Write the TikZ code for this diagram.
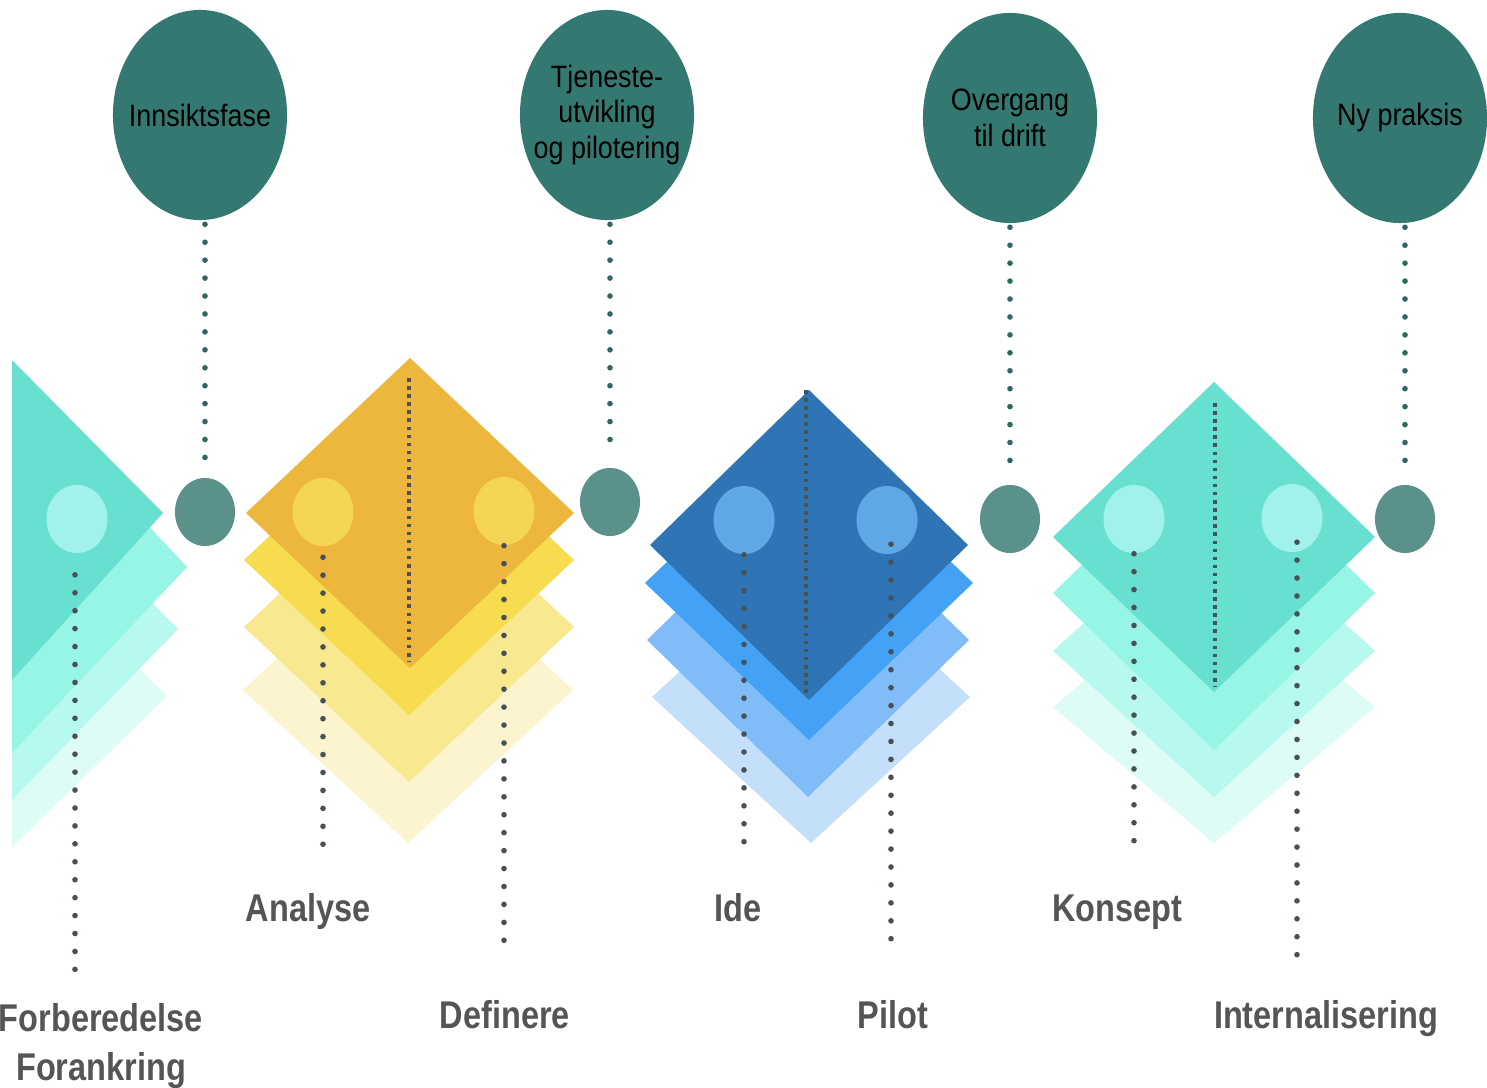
\documentclass[tikz,border=0pt]{standalone}
\usepackage{fontspec}
\setmainfont{Liberation Sans}
\newfontfamily\ovalfont{Liberation Sans}[FakeStretch=0.87]
\newfontfamily\stagefont{Liberation Sans}[FakeStretch=0.84]
\usepackage{tikz}
\usetikzlibrary{shapes.geometric}
\definecolor{ph-teal}{RGB}{51,121,114}
\definecolor{ph-knob}{RGB}{91,145,139}
\definecolor{ph-stem}{RGB}{47,104,99}
\definecolor{ph-dot}{RGB}{72,80,88}
\definecolor{ph-grey}{RGB}{85,85,85}
\definecolor{yl-main}{RGB}{237,182,60}
\definecolor{yl-two}{RGB}{246,220,78}
\definecolor{yl-three}{RGB}{248,232,143}
\definecolor{yl-four}{RGB}{252,244,207}
\definecolor{yl-spot}{RGB}{245,213,84}
\definecolor{bl-main}{RGB}{47,116,181}
\definecolor{bl-two}{RGB}{68,162,246}
\definecolor{bl-three}{RGB}{128,188,247}
\definecolor{bl-four}{RGB}{196,223,250}
\definecolor{bl-spot}{RGB}{94,169,229}
\definecolor{mt-main}{RGB}{104,224,207}
\definecolor{mt-two}{RGB}{151,245,230}
\definecolor{mt-three}{RGB}{183,249,238}
\definecolor{mt-four}{RGB}{222,252,246}
\definecolor{mt-spot}{RGB}{162,242,236}
\tikzset{
  ph@oval/.style={
    ellipse, fill=ph-teal, minimum width=1.74cm, minimum height=2.1cm,
    inner xsep=-3.5pt, inner ysep=0pt, align=center, text=black,
    font=\ovalfont\fontsize{8.8}{10.2}\selectfont
  },
  ph@knob/.style={ellipse, fill=ph-knob, minimum width=0.6cm,
    minimum height=0.68cm, inner sep=0pt},
  ph@spot/.style={ellipse, minimum width=0.61cm, minimum height=0.68cm,
    inner sep=0pt},
  ph@dots/.style={ph-dot, line width=1.6pt, line cap=round,
    dash pattern=on 0pt off 5.1pt},
  ph@stem/.style={ph@dots, ph-stem},
  ph@seam/.style={ph-dot, line width=1pt, dash pattern=on 1pt off 1.3pt},
  ph@stage/.style={text=ph-grey, align=center, inner sep=0pt,
    font=\stagefont\bfseries\fontsize{11}{13.9}\selectfont},
}
% one layer of a stack: centre x, centre y, half width, half height, colour
\newcommand{\phlayer}[5]{%
  \fill[#5, shift={(#1,#2)}] (-#3,0) -- (0,-#4) -- (#3,0) -- (0,#4) -- cycle;}

\begin{document}
\begin{tikzpicture}[x=0.01cm, y=-0.01cm]
  \fill[white] (0,0) rectangle (1487,1088);
  \useasboundingbox (0,0) rectangle (1487,1088);

  % cut-off stack on the left
  \fill[mt-four]  (12,545) -- (167,696) -- (12,847) -- cycle;
  \fill[mt-three] (12,463) -- (178,629) -- (12,800) -- cycle;
  \fill[mt-two]   (12,381) -- (187,567) -- (12,753) -- cycle;
  \fill[mt-main]  (12,360) -- (163,513) -- (12,680) -- cycle;

  % stacks
  \phlayer{408}{690}{165}{153}{yl-four}
  \phlayer{409}{627}{165}{155}{yl-three}
  \phlayer{409}{560}{165}{155}{yl-two}
  \phlayer{410}{513}{164}{155}{yl-main}

  \phlayer{811}{697}{159}{146}{bl-four}
  \phlayer{808}{640}{161}{157}{bl-three}
  \phlayer{809}{583}{164}{157}{bl-two}
  \phlayer{809}{545}{159}{155}{bl-main}

  \phlayer{1214}{707}{161}{136}{mt-four}
  \phlayer{1214}{651}{161}{146}{mt-three}
  \phlayer{1214}{593}{161}{157}{mt-two}
  \phlayer{1214}{537}{161}{155}{mt-main}

  % phases on top
  \node[ph@oval] (innsikt) at (200,115) {Innsiktsfase};
  \node[ph@oval] (tjeneste) at (607,115) {Tjeneste-\\utvikling\\og pilotering};
  \node[ph@oval] (overgang) at (1010,118) {Overgang\\til drift};
  \node[ph@oval] (praksis) at (1400,118) {Ny praksis};

  \node[ph@knob] (k1) at (205,512) {};
  \node[ph@knob] (k2) at (610,502) {};
  \node[ph@knob] (k3) at (1010,519) {};
  \node[ph@knob] (k4) at (1405,519) {};

  \draw[ph@stem, shorten <=1pt, shorten >=5pt] (k1 |- innsikt.south) -- (k1.north);
  \draw[ph@stem, shorten <=1pt, shorten >=7pt] (k2 |- tjeneste.south) -- (k2.north);
  \draw[ph@stem, shorten <=1pt, shorten >=5pt] (k3 |- overgang.south) -- (k3.north);
  \draw[ph@stem, shorten <=1pt, shorten >=4pt] (k4 |- praksis.south) -- (k4.north);

  % light spots and their drop lines
  \node[ph@spot, fill=mt-spot] (s0) at (77,519) {};
  \node[ph@spot, fill=yl-spot] (s1) at (323,512) {};
  \node[ph@spot, fill=yl-spot] (s2) at (504,511) {};
  \node[ph@spot, fill=bl-spot] (s3) at (744,520) {};
  \node[ph@spot, fill=bl-spot] (s4) at (887,520) {};
  \node[ph@spot, fill=mt-spot] (s5) at (1134,519) {};
  \node[ph@spot, fill=mt-spot] (s6) at (1292,518) {};

  \coordinate (d0) at (75,985);
  \coordinate (d1) at (323,858);
  \coordinate (d2) at (504,958);
  \coordinate (d3) at (744,858);
  \coordinate (d4) at (891,955);
  \coordinate (d5) at (1134,858);
  \coordinate (d6) at (1297,955);

  \draw[ph@dots, shorten <=6pt] (d0 |- s0.south) -- (d0);
  \draw[ph@dots, shorten <=3pt] (s1.south) -- (d1);
  \draw[ph@dots] (s2.south) -- (d2);
  \draw[ph@dots] (s3.south) -- (d3);
  \draw[ph@dots, shorten <=-3pt] (d4 |- s4.south) -- (d4);
  \draw[ph@dots] (s5.south) -- (d5);
  \draw[ph@dots, shorten <=-3pt] (d6 |- s6.south) -- (d6);

  % seams down the middle of the stacks
  \coordinate (yt) at (409,378);  \coordinate (yb) at (409,662);
  \coordinate (bt) at (806,390);  \coordinate (bb) at (806,695);
  \coordinate (tt) at (1215,403); \coordinate (tb) at (1215,687);
  \draw[ph@seam] (yt) -- (yb);
  \draw[ph@seam] (bt) -- (bb);
  \draw[ph@seam] (tt) -- (tb);

  % stage names
  \node[ph@stage] (fore) at (101,1046) {Forberedelse\\Forankring};
  \node[ph@stage, anchor=base] (analyse) at (308,921) {Analyse};
  \node[ph@stage, anchor=base] (definere) at (505,1028) {Definere};
  \node[ph@stage, anchor=base] (ide) at (738,921) {Ide};
  \node[ph@stage, anchor=base] (pilot) at (893,1028) {Pilot};
  \node[ph@stage, anchor=base] (konsept) at (1117,921) {Konsept};
  \node[ph@stage, anchor=base] (intern) at (1326,1028) {Internalisering};
\end{tikzpicture}
\end{document}
